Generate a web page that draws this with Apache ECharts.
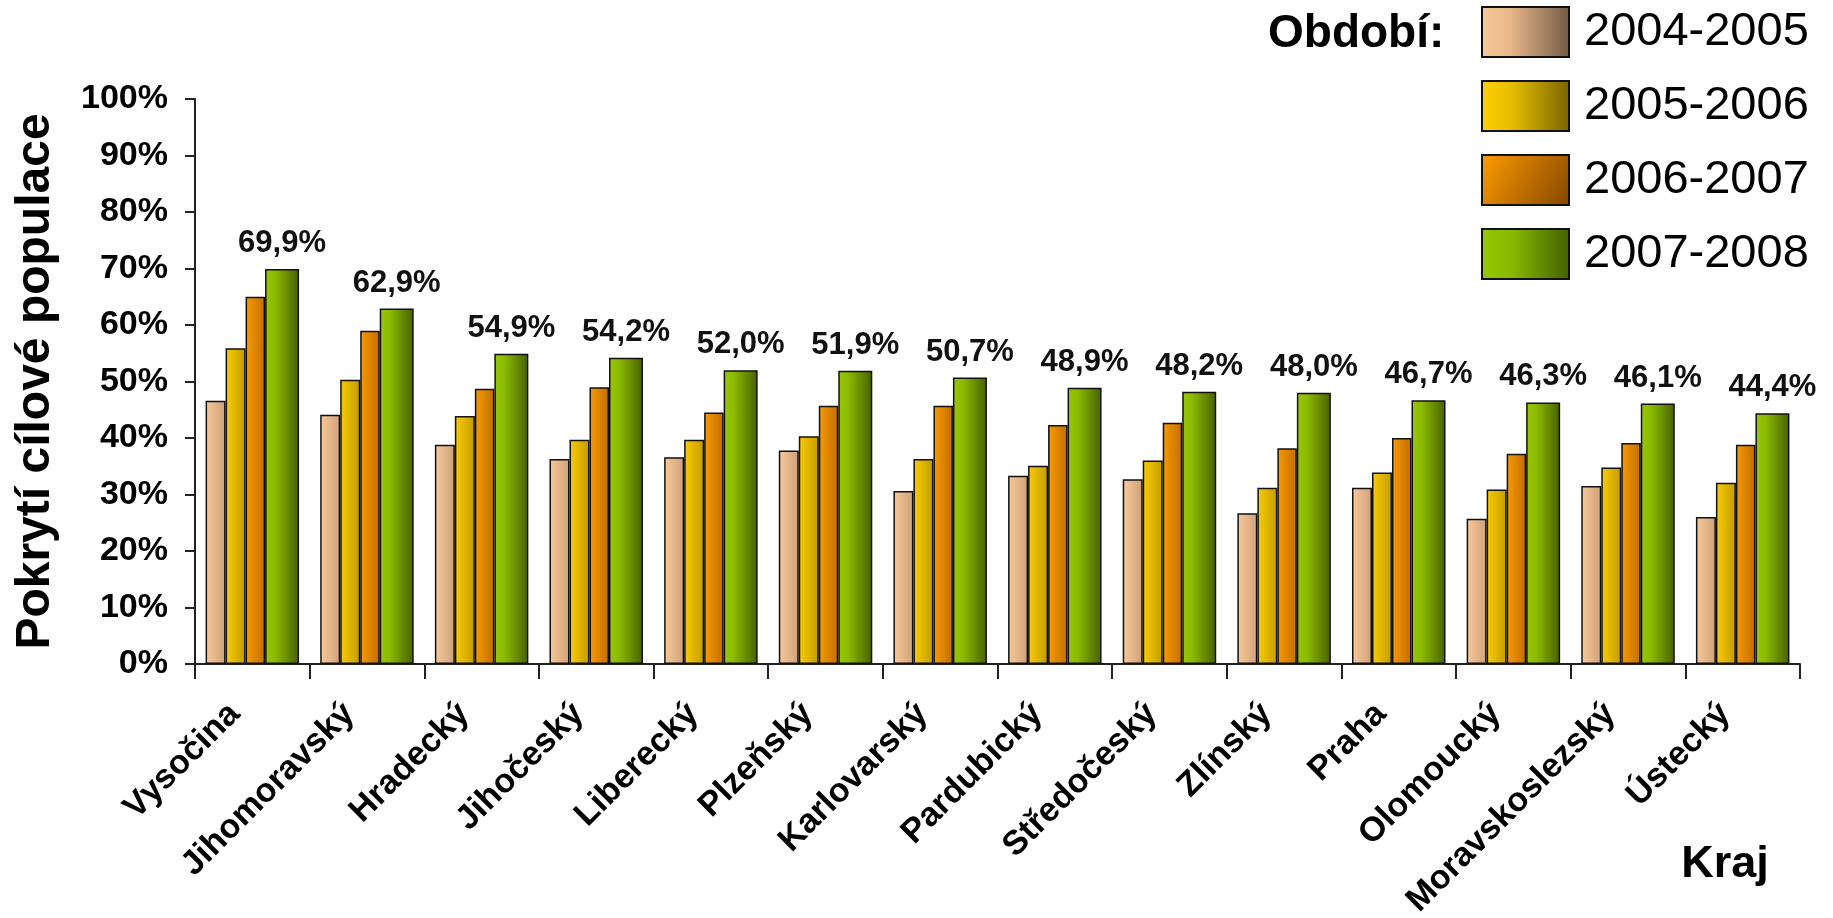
<!DOCTYPE html>
<html>
<head>
<meta charset="utf-8">
<script src="https://cdn.jsdelivr.net/npm/echarts@6/dist/echarts.min.js"></script>
<style>
html,body{margin:0;padding:0;background:#fff;}
#chart{width:1833px;height:918px;}
</style>
</head>
<body>
<div id="chart"></div>
<script>
// ---- data ----
const categories = ['Vysočina','Jihomoravský','Hradecký','Jihočeský','Liberecký','Plzeňský','Karlovarský','Pardubický','Středočeský','Zlínský','Praha','Olomoucký','Moravskoslezský','Ústecký'];
const seriesNames = ['2004-2005','2005-2006','2006-2007','2007-2008'];
const v2004_2005 = [46.6, 44.1, 38.8, 36.3, 36.6, 37.8, 30.6, 33.3, 32.7, 26.7, 31.2, 25.7, 31.5, 26.0];
const v2005_2006 = [55.9, 50.3, 43.9, 39.7, 39.7, 40.3, 36.3, 35.1, 36.0, 31.2, 33.9, 30.9, 34.8, 32.1];
const v2006_2007 = [65.0, 59.0, 48.7, 49.0, 44.5, 45.7, 45.7, 42.3, 42.7, 38.2, 40.0, 37.2, 39.1, 38.8];
const v2007_2008 = [69.9, 62.9, 54.9, 54.2, 52.0, 51.9, 50.7, 48.9, 48.2, 48.0, 46.7, 46.3, 46.1, 44.4];
const yTicks = [0,10,20,30,40,50,60,70,80,90,100];

const FONT = '"Liberation Sans", Arial, sans-serif';
function hgrad(stops){
  return new echarts.graphic.LinearGradient(0,0,1,0, stops.map(s=>({offset:s[0], color:s[1]})));
}
const barFills = [
  hgrad([[0,'#F9C999'],[1,'#CDA17A']]),
  hgrad([[0,'#FACC00'],[1,'#C29C00']]),
  hgrad([[0,'#F99A00'],[1,'#C06E00']]),
  hgrad([[0,'#98C800'],[0.3,'#8CBA00'],[1,'#466000']])
];
const legendFills = [
  hgrad([[0,'#FAC999'],[0.35,'#E6B58A'],[1,'#715A44']]),
  hgrad([[0,'#FFD000'],[0.35,'#E6BC00'],[1,'#786400']]),
  new echarts.graphic.LinearGradient(0,0,1,1,[{offset:0,color:'#FF9C00'},{offset:1,color:'#844600'}]),
  hgrad([[0,'#96C800'],[0.35,'#88B800'],[1,'#436000']])
];
const barWidths = [20, 20, 19.5, 34];
const values = [v2004_2005, v2005_2006, v2006_2007, v2007_2008];

const chart = echarts.init(document.getElementById('chart'));
const series = seriesNames.map((name,i)=>({
  name: name,
  type: 'bar',
  data: values[i],
  barWidth: barWidths[i],
  barGap: '0%',
  itemStyle: {color: barFills[i], borderColor: '#111', borderWidth: 1.5},
  label: i === 3 ? {
    show: true, position: 'top', distance: 10,
    fontFamily: FONT, fontWeight: 'bold', fontSize: 31, color: '#111',
    formatter: p => p.value.toFixed(1).replace('.', ',') + '%'
  } : {show: false},
  emphasis: {disabled: true},
  animation: false
}));

chart.setOption({
  animation: false,
  backgroundColor: '#fff',
  grid: {left: 195, right: 33, top: 99, bottom: 254, containLabel: false, outerBoundsMode: 'none'},
  legend: {
    orient: 'vertical', left: 1476, top: 1,
    itemWidth: 87, itemHeight: 50, itemGap: 22,
    icon: 'rect',
    selectedMode: false,
    textStyle: {fontFamily: FONT, fontSize: 47, color: '#000', padding: [0,0,0,10]},
    data: seriesNames.map((n,i)=>({name: n, itemStyle: {color: legendFills[i], borderColor: '#111', borderWidth: 2}}))
  },
  xAxis: {
    type: 'category',
    data: categories,
    axisLine: {lineStyle: {color: '#222', width: 2}},
    axisTick: {show: true, length: 15, lineStyle: {color: '#222', width: 2}},
    axisLabel: {rotate: 45, margin: 27, interval: 0, fontFamily: FONT, fontWeight: 'bold', fontSize: 34, color: '#000', padding: [0, 25, 0, 0]}
  },
  yAxis: {
    type: 'value', min: 0, max: 100, interval: 10,
    name: 'Pokrytí cílové populace',
    nameLocation: 'middle', nameGap: 135,
    nameTextStyle: {fontFamily: FONT, fontWeight: 'bold', fontSize: 48, color: '#000'},
    axisLine: {show: true, lineStyle: {color: '#222', width: 2}},
    axisTick: {show: true, inside: false, length: 10, lineStyle: {color: '#222', width: 2}},
    splitLine: {show: false},
    axisLabel: {margin: 27, fontFamily: FONT, fontWeight: 'bold', fontSize: 34, color: '#000',
      formatter: v => (yTicks.indexOf(v) >= 0 ? v + '%' : '')}
  },
  graphic: [
    {type: 'text', x: 1268, y: 34, style: {text: 'Období:', font: 'bold 46px ' + FONT, fill: '#000', align: 'left', verticalAlign: 'middle'}},
    {type: 'text', x: 1725, y: 865, style: {text: 'Kraj', font: 'bold 45px ' + FONT, fill: '#000', align: 'center', verticalAlign: 'middle'}}
  ],
  series: series
});
</script>
</body>
</html>
